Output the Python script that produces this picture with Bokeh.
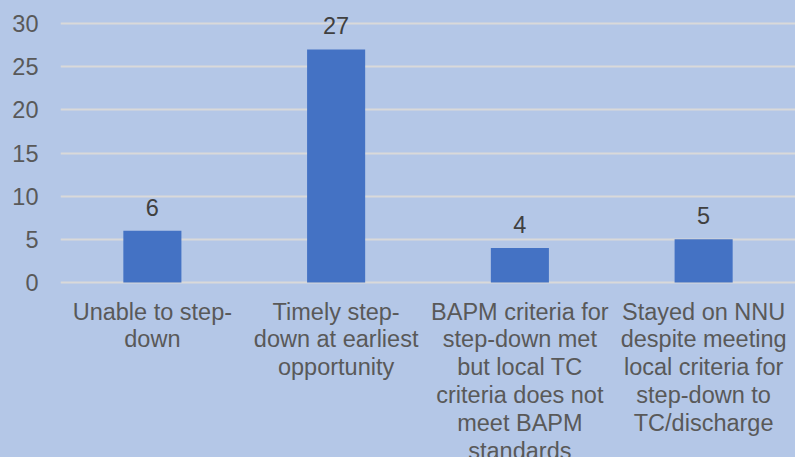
from bokeh.plotting import figure
from bokeh.models import ColumnDataSource, LabelSet, Range1d, FactorRange, FixedTicker
from bokeh.core.properties import value
from bokeh.embed import file_html
from bokeh.resources import INLINE

categories = [
    "Unable to step-\ndown",
    "Timely step-\ndown at earliest\nopportunity",
    "BAPM criteria for\nstep-down met\nbut local TC\ncriteria does not\nmeet BAPM\nstandards",
    "Stayed on NNU\ndespite meeting\nlocal criteria for\nstep-down to\nTC/discharge",
]
values = [6, 27, 4, 5]
labels = [str(v) for v in values]
y_ticks = [0, 5, 10, 15, 20, 25, 30]

FONT = "Liberation Sans"
TXT = "#595959"
BG = "#B4C7E7"
FS = "23.5px"

W, H = 795, 457
LEFT = 60
ZERO_PX = 282          # screen y of value 0
TOP30_PX = 23          # screen y of value 30
ppu = (ZERO_PX - TOP30_PX) / 30.0
y_top = ZERO_PX / ppu
y_bot = -(H - ZERO_PX) / ppu

src = ColumnDataSource(dict(cat=categories, val=values, lab=labels,
                            zero=[0] * len(categories)))

p = figure(width=W, height=H, x_range=FactorRange(*categories), y_range=Range1d(y_bot, y_top),
           output_backend="svg", toolbar_location=None,
           min_border_left=LEFT, min_border_right=0, min_border_top=0, min_border_bottom=0)
p.background_fill_color = BG
p.border_fill_color = BG
p.outline_line_color = None
p.styles = {"background-color": BG}

p.vbar(x="cat", top="val", bottom=0, width=0.316, source=src,
       fill_color="#4472C4", line_color=None)

p.add_layout(LabelSet(x="cat", y="val", text="lab", source=src, y_offset=15,
                      text_align="center", text_baseline="alphabetic",
                      text_font=value(FONT), text_font_size=value(FS), text_color="#404040"))

# category labels under the bars
p.text(x="cat", y="zero", text="cat", source=src, y_offset=16,
       text_align="center", text_baseline="top", text_line_height=1.07,
       text_font=value(FONT), text_font_size=value(FS), text_color=TXT)

p.xgrid.grid_line_color = None
p.ygrid.grid_line_color = "#D9D9D9"
p.ygrid.grid_line_width = 2
p.yaxis.ticker = FixedTicker(ticks=y_ticks)
p.ygrid.ticker = FixedTicker(ticks=y_ticks)

p.xaxis.visible = False
ax = p.yaxis
ax.axis_line_color = None
ax.major_tick_line_color = None
ax.minor_tick_line_color = None
ax.major_tick_in = 0
ax.major_tick_out = 0
ax.major_label_text_font = FONT
ax.major_label_text_font_size = FS
ax.major_label_text_color = TXT
ax.major_label_standoff = 22

open("out.html", "w").write(file_html(p, INLINE))
